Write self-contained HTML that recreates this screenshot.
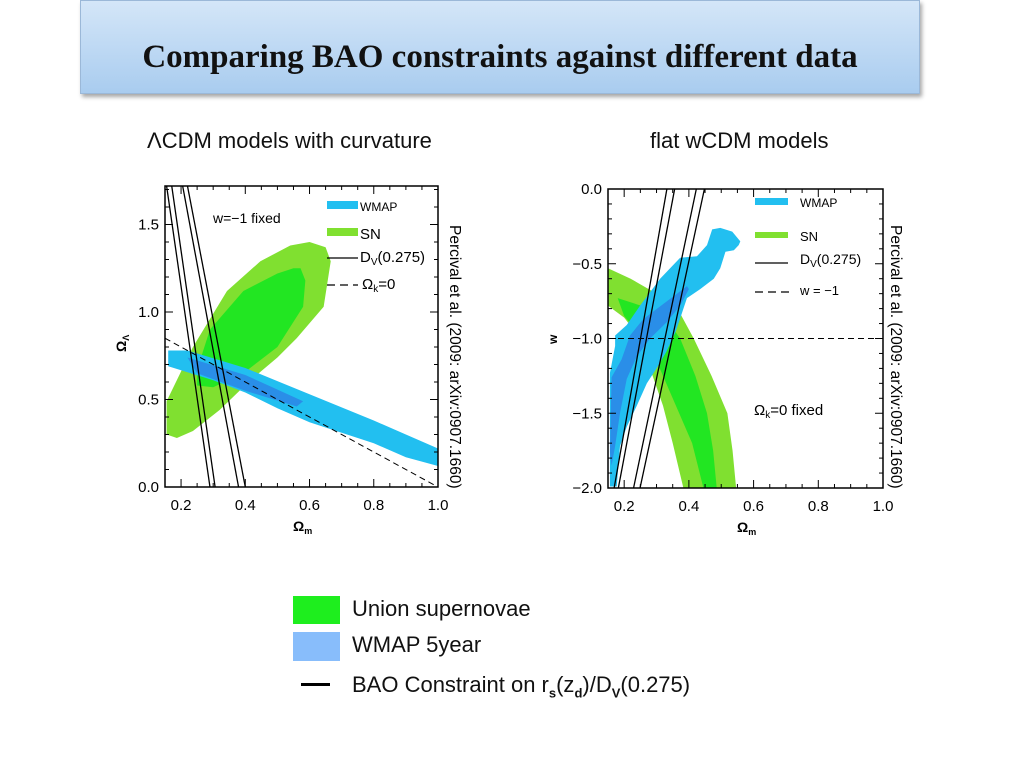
<!DOCTYPE html>
<html><head><meta charset="utf-8">
<style>
body{margin:0;width:1024px;height:768px;background:#fff;position:relative;overflow:hidden;font-family:"Liberation Sans",sans-serif}
#title{position:absolute;left:80px;top:0;width:838px;height:92px;background:linear-gradient(#d4e6f8,#a9ccef);border:1px solid #9bb8d8;box-shadow:2px 3px 4px rgba(0,0,0,0.35);text-align:center;font-family:"Liberation Serif",serif;font-weight:bold;font-size:33px;line-height:112px;color:#111;white-space:nowrap}
.sub{position:absolute;top:128px;font-size:22px;color:#111;white-space:nowrap}
.lg{position:absolute;font-size:22px;color:#111;white-space:nowrap}
</style></head><body>
<div id="title">Comparing BAO constraints against different data</div>
<div class="sub" style="left:147px">ΛCDM models with curvature</div>
<div class="sub" style="left:650px">flat wCDM models</div>
<svg id="svg" width="1024" height="768" style="position:absolute;left:0;top:0"></svg>
<div style="position:absolute;left:293px;top:596px;width:47px;height:28px;background:#1eee1e"></div>
<div class="lg" style="left:352px;top:596px">Union supernovae</div>
<div style="position:absolute;left:293px;top:632px;width:47px;height:29px;background:#88bdfb"></div>
<div class="lg" style="left:352px;top:632px">WMAP 5year</div>
<div style="position:absolute;left:301px;top:683px;width:29px;height:3px;background:#000"></div>
<div class="lg" style="left:352px;top:672px">BAO Constraint on r<sub style="font-size:13px;font-weight:bold">s</sub>(z<sub style="font-size:13px;font-weight:bold">d</sub>)/D<sub style="font-size:13px;font-weight:bold">V</sub>(0.275)</div>
<script>
// ---- Left chart data (Omega_m, Omega_Lambda)
const L_snOuter=[[0.155,0.49],[0.237,0.8],[0.343,1.12],[0.447,1.29],[0.54,1.38],[0.6,1.4],[0.65,1.37],[0.666,1.29],[0.644,1.03],[0.56,0.85],[0.5,0.74],[0.416,0.61],[0.32,0.44],[0.237,0.32],[0.187,0.28],[0.155,0.3]];
const L_snInner=[[0.25,0.67],[0.29,0.9],[0.394,1.12],[0.5,1.22],[0.55,1.25],[0.572,1.25],[0.587,1.18],[0.58,1.03],[0.5,0.8],[0.394,0.65],[0.3,0.57],[0.25,0.58]];
const L_wmapOuter=[[0.16,0.78],[0.22,0.78],[0.4,0.68],[0.6,0.53],[0.8,0.38],[0.9,0.3],[1.0,0.22],[1.0,0.12],[0.9,0.17],[0.8,0.25],[0.6,0.37],[0.5,0.45],[0.4,0.54],[0.3,0.61],[0.16,0.69]];
const L_wmapInner=[[0.22,0.74],[0.4,0.64],[0.58,0.49],[0.56,0.46],[0.4,0.55],[0.25,0.65]];
const L_bao=[[0.155,0.29],[0.171,0.306],[0.205,0.379],[0.22,0.4]]; // x at top, x at bottom
const L_flat=[[0.15,0.85],[1.0,0.0]];
// ---- Right chart data (Omega_m, w)
const R_snOuter=[[0.15,-0.53],[0.22,-0.6],[0.3,-0.7],[0.37,-0.82],[0.415,-1.0],[0.47,-1.25],[0.519,-1.5],[0.535,-1.75],[0.546,-2.0],[0.383,-2.0],[0.35,-1.7],[0.32,-1.45],[0.28,-1.2],[0.25,-1.0],[0.2,-0.86],[0.15,-0.78]];
const R_snInner=[[0.18,-0.73],[0.28,-0.8],[0.34,-0.9],[0.373,-1.0],[0.42,-1.25],[0.456,-1.5],[0.475,-1.75],[0.486,-2.0],[0.445,-2.0],[0.41,-1.7],[0.36,-1.45],[0.31,-1.2],[0.26,-1.0],[0.2,-0.85]];
const R_wmapOuter=[[0.156,-1.99],[0.156,-1.23],[0.172,-1.05],[0.172,-0.98],[0.208,-0.91],[0.249,-0.78],[0.311,-0.6],[0.373,-0.46],[0.425,-0.45],[0.456,-0.375],[0.472,-0.27],[0.497,-0.26],[0.534,-0.285],[0.559,-0.35],[0.554,-0.375],[0.539,-0.41],[0.513,-0.42],[0.497,-0.53],[0.477,-0.6],[0.435,-0.67],[0.394,-0.73],[0.36,-0.95],[0.33,-1.09],[0.3,-1.2],[0.27,-1.3],[0.239,-1.45],[0.208,-1.59],[0.187,-1.72],[0.177,-1.99]];
const R_wmapInner=[[0.156,-1.76],[0.161,-1.26],[0.192,-1.14],[0.218,-0.98],[0.259,-0.87],[0.394,-0.65],[0.4,-0.67],[0.373,-0.78],[0.332,-0.89],[0.28,-1.0],[0.239,-1.12],[0.208,-1.27],[0.187,-1.5],[0.172,-1.72],[0.161,-1.85]];
const R_bao=[[0.332,0.169],[0.356,0.182],[0.423,0.229],[0.448,0.249]];
const R_wline=-1.0;
const L_xticks=[0.2,0.4,0.6,0.8,1.0];
const L_yticks=[0.0,0.5,1.0,1.5];
const R_xticks=[0.2,0.4,0.6,0.8,1.0];
const R_yticks=[0.0,-0.5,-1.0,-1.5,-2.0];

const NS='http://www.w3.org/2000/svg';
const svg=document.getElementById('svg');
function mk(tag,at,parent){const e=document.createElementNS(NS,tag);for(const k in at)e.setAttribute(k,at[k]);(parent||svg).appendChild(e);return e;}
function chart(o){
  const g=mk('g',{});
  
  
  const sx=v=>o.x0+(v-o.xmin)/(o.xmax-o.xmin)*(o.x1-o.x0);
  const sy=v=>o.y1-(v-o.ymin)/(o.ymax-o.ymin)*(o.y1-o.y0);
  const cp=mk('clipPath',{id:o.name+'-clip'},g);mk('rect',{x:o.x0,y:o.y0,width:o.x1-o.x0,height:o.y1-o.y0},cp);
  const pg=mk('g',{'clip-path':'url(#'+o.name+'-clip)'},g);
  const poly=(pts,fill,nm)=>{const p=mk('polygon',{points:pts.map(q=>sx(q[0])+','+sy(q[1])).join(' '),fill:fill},pg);
    
    };
  poly(o.snO,'#80e030','sn-outer-contour');poly(o.snI,'#22e622','sn-inner-contour');poly(o.wO,'#22bff0','wmap-outer-contour');poly(o.wI,'#2a8ee8','wmap-inner-contour');
  o.bao.forEach(b=>{const l=mk('line',{x1:sx(b[0]),y1:sy(o.baoTop),x2:sx(b[1]),y2:sy(o.baoBot),stroke:'#000','stroke-width':1.3},pg);
    
    });
  const d=mk('line',{x1:sx(o.dash[0][0]),y1:sy(o.dash[0][1]),x2:sx(o.dash[1][0]),y2:sy(o.dash[1][1]),stroke:'#000','stroke-width':1,'stroke-dasharray':'6,4'},pg);
  
  
  mk('rect',{x:o.x0,y:o.y0,width:o.x1-o.x0,height:o.y1-o.y0,fill:'none',stroke:'#000','stroke-width':1.5},g);
  for(let v=o.xmin;v<=o.xmax+1e-9;v+=o.xminor){const X=sx(v);const maj=o.xt.some(t=>Math.abs(t-v)<1e-6);const L=maj?8:4;
    mk('line',{x1:X,y1:o.y1,x2:X,y2:o.y1-L,stroke:'#000'},g);mk('line',{x1:X,y1:o.y0,x2:X,y2:o.y0+L,stroke:'#000'},g);}
  for(let v=o.ymin;v<=o.ymax+1e-9;v+=o.yminor){const Y=sy(v);const maj=o.yt.some(t=>Math.abs(t-v)<1e-6);const L=maj?8:4;
    mk('line',{x1:o.x0,y1:Y,x2:o.x0+L,y2:Y,stroke:'#000'},g);mk('line',{x1:o.x1,y1:Y,x2:o.x1-L,y2:Y,stroke:'#000'},g);}
  o.xt.forEach(t=>{const e=mk('text',{x:sx(t),y:o.y1+23,'text-anchor':'middle','font-size':15,'font-family':'Liberation Sans, sans-serif'},g);e.textContent=t.toFixed(1);
    
    });
  o.yt.forEach(t=>{const e=mk('text',{x:o.x0-6,y:sy(t)+5,'text-anchor':'end','font-size':15,'font-family':'Liberation Sans, sans-serif'},g);e.textContent=(t<0?'\u2212'+(-t).toFixed(1):t.toFixed(1));
    
    });
  return {g,sx,sy};
}
const A=chart({name:'lcdm-chart',x0:165,x1:438,y0:186,y1:487,xmin:0.15,xmax:1.0,ymin:0,ymax:1.72,xminor:0.05,yminor:0.1,xt:L_xticks,yt:L_yticks,
  snO:L_snOuter,snI:L_snInner,wO:L_wmapOuter,wI:L_wmapInner,bao:L_bao,baoTop:1.72,baoBot:0,dash:L_flat});
const B=chart({name:'wcdm-chart',x0:608,x1:883,y0:189,y1:488,xmin:0.15,xmax:1.0,ymin:-2.0,ymax:0.0,xminor:0.05,yminor:0.1,xt:R_xticks,yt:R_yticks,
  snO:R_snOuter,snI:R_snInner,wO:R_wmapOuter,wI:R_wmapInner,bao:R_bao,baoTop:0,baoBot:-2.0,dash:[[0.15,R_wline],[1.0,R_wline]]});
function txt(x,y,s,size,extra,name){const e=mk('text',Object.assign({x:x,y:y,'font-size':size,'font-family':'Liberation Sans, sans-serif','xml:space':'preserve'},extra||{}));e.innerHTML=s;
  
  return e;}
function rect(x,y,w,h,f,name){const r=mk('rect',{x:x,y:y,width:w,height:h,fill:f});
  
  }
function ln(x1,y1,x2,y2,dash,name){const l=mk('line',{x1:x1,y1:y1,x2:x2,y2:y2,stroke:'#000','stroke-width':1.2,'stroke-dasharray':dash||'none'});
  
  }
// left legend
rect(327,201,31,8,'#22bff0','left-legend-wmap');txt(360,211,'WMAP',12,{},'left-legend-wmap-label');
rect(327,228,31,8,'#80e030','left-legend-sn');txt(360,239,'SN',15,{},'left-legend-sn-label');
ln(327,258,358,258,'','left-legend-dv');txt(360,262,'D<tspan font-size="10" dy="3">V</tspan><tspan dy="-3">(0.275)</tspan>',15,{},'left-legend-dv-label');
ln(327,285,358,285,'8,5','left-legend-flat');txt(362,289,'Ω<tspan font-size="10" dy="3">k</tspan><tspan dy="-3">=0</tspan>',15,{},'left-legend-flat-label');
txt(213,223,'w=−1  fixed',14,{},'left-annotation');
// right legend
rect(755,198,33,7,'#22bff0','right-legend-wmap');txt(800,207,'WMAP',12,{},'right-legend-wmap-label');
rect(755,232,33,6,'#80e030','right-legend-sn');txt(800,241,'SN',13,{},'right-legend-sn-label');
ln(755,263,788,263,'','right-legend-dv');txt(800,264,'D<tspan font-size="10" dy="3">V</tspan><tspan dy="-3">(0.275)</tspan>',14,{},'right-legend-dv-label');
ln(755,292,790,292,'8,5','right-legend-w');txt(800,295,'w   =   −1',13,{},'right-legend-w-label');
txt(754,415,'Ω<tspan font-size="10" dy="3">k</tspan><tspan dy="-3">=0  fixed</tspan>',15,{},'right-annotation');
// axis titles
txt(293,531,'Ω<tspan font-size="9" dy="3">m</tspan>',14,{'font-weight':'bold'},'left-x-axis-title');
txt(737,532,'Ω<tspan font-size="9" dy="3">m</tspan>',14,{'font-weight':'bold'},'right-x-axis-title');
txt(126,352,'Ω<tspan font-size="9" dy="3">Λ</tspan>',14,{'font-weight':'bold',transform:'rotate(-90 126 352)'},'left-y-axis-title');
txt(557,344,'w',12,{'font-weight':'bold',transform:'rotate(-90 557 344)'},'right-y-axis-title');
// rotated citations
txt(450,225,'Percival et al. (2009: arXiv:0907.1660)',15.5,{transform:'rotate(90 450 225)'},'left-citation');
txt(891,225,'Percival et al. (2009: arXiv:0907.1660)',15.5,{transform:'rotate(90 891 225)'},'right-citation');
</script>
</body></html>
